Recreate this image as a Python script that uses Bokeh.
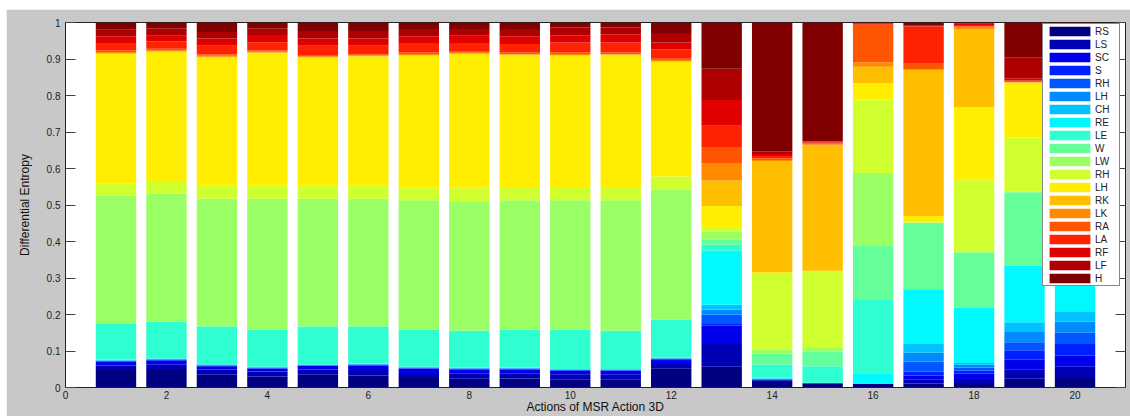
from bokeh.plotting import figure
from bokeh.models import (ColumnDataSource, Range1d, FixedTicker, LinearAxis,
                          Legend, LegendItem)
from bokeh.embed import file_html
from bokeh.resources import INLINE

# ---- data: entropy share of each joint, for the 20 actions ----
actions = list(range(1, 21))
rs = [.048, .051, .035, .030, .035, .033, .026, .024, .025, .021, .021, .053, .057, .018, .010, .010, .011, .012, .024, .026]
ls = [.012, .011, .014, .014, .014, .015, .014, .014, .013, .015, .014, .014, .062, .002, .001, .000, .010, .011, .026, .031]
sc = [.010, .011, .009, .008, .010, .012, .012, .011, .011, .009, .011, .009, .050, .001, .001, .000, .012, .015, .026, .030]
s = [.002, .003, .002, .001, .001, .002, .001, .002, .002, .002, .001, .002, .005, .001, .000, .000, .010, .008, .026, .032]
rh_hand = [.001, .001, .001, .001, .001, .001, .001, .001, .001, .001, .001, .001, .025, .001, .000, .000, .028, .009, .022, .031]
lh_hand = [.001, .001, .001, .001, .001, .001, .001, .001, .001, .001, .001, .001, .015, .001, .000, .000, .024, .007, .028, .030]
ch = [.001, .001, .001, .001, .001, .001, .001, .001, .001, .001, .001, .001, .013, .001, .000, .000, .024, .005, .027, .029]
re = [.001, .001, .001, .001, .001, .001, .001, .001, .001, .001, .001, .001, .148, .002, .001, .029, .150, .152, .155, .150]
le = [.100, .100, .103, .101, .103, .101, .101, .100, .103, .107, .104, .103, .016, .036, .045, .201, .001, .001, .001, .050]
w = [.001, .001, .001, .001, .001, .001, .001, .001, .001, .001, .001, .001, .014, .030, .040, .150, .181, .150, .200, .100]
lw = [.349, .350, .349, .358, .349, .349, .354, .354, .354, .354, .357, .356, .022, .011, .010, .198, .001, .001, .001, .050]
rh_hip = [.032, .032, .037, .037, .037, .037, .034, .036, .036, .036, .036, .036, .010, .210, .211, .201, .001, .197, .149, .100]
lh_hip = [.356, .356, .350, .363, .350, .353, .362, .368, .362, .360, .362, .314, .060, .002, .001, .045, .017, .200, .150, .100]
rk = [.002, .002, .002, .001, .001, .001, .002, .001, .001, .002, .001, .002, .070, .303, .343, .045, .400, .214, .001, .050]
lk = [.003, .003, .003, .002, .002, .002, .003, .002, .002, .003, .002, .003, .048, .004, .003, .012, .002, .004, .001, .020]
ra = [.004, .004, .004, .003, .004, .003, .004, .003, .004, .004, .004, .004, .044, .005, .003, .103, .015, .003, .001, .020]
la = [.021, .020, .023, .023, .025, .023, .026, .024, .023, .027, .027, .026, .058, .006, .002, .002, .102, .004, .003, .020]
rf = [.018, .016, .020, .020, .020, .020, .018, .020, .021, .020, .023, .018, .071, .006, .002, .002, .001, .003, .006, .030]
lf = [.018, .020, .018, .018, .021, .021, .020, .018, .020, .021, .018, .026, .085, .007, .002, .001, .001, .002, .058, .050]
h = [.020, .016, .026, .016, .023, .023, .018, .018, .018, .014, .014, .029, .127, .353, .325, .001, .009, .002, .095, .051]

joint_labels = ["RS", "LS", "SC", "S", "RH", "LH", "CH", "RE", "LE", "W",
                "LW", "RH", "LH", "RK", "LK", "RA", "LA", "RF", "LF", "H"]
series = [rs, ls, sc, s, rh_hand, lh_hand, ch, re, le, w,
          lw, rh_hip, lh_hip, rk, lk, ra, la, rf, lf, h]

x_ticks = [0, 2, 4, 6, 8, 10, 12, 14, 16, 18, 20]
y_ticks = [0, 0.1, 0.2, 0.3, 0.4, 0.5, 0.6, 0.7, 0.8, 0.9, 1]
y_tick_labels = ["0", "0.1", "0.2", "0.3", "0.4", "0.5", "0.6", "0.7", "0.8", "0.9", "1"]

# jet colormap, 20 steps
colors = ["#000080", "#0000b5", "#0000eb", "#0021ff", "#0057ff", "#008cff",
          "#00c2ff", "#00f8ff", "#2fffd0", "#65ff9a", "#9aff65", "#d0ff2f",
          "#ffee00", "#ffbe00", "#ff8a00", "#ff5500", "#ff2200", "#e00000",
          "#ae0000", "#800000"]

FONT = "Liberation Sans"

keys = ["s%d" % i for i in range(len(series))]
data = {"x": actions}
for k, vals in zip(keys, series):
    data[k] = vals
source = ColumnDataSource(data)

p = figure(width=1124, height=407, output_backend="svg", toolbar_location=None,
           title=None, x_range=Range1d(0, 21), y_range=Range1d(0, 1),
           min_border_left=59, min_border_right=5, min_border_top=13,
           min_border_bottom=28)
p.margin = (9, 0, 0, 6)
p.background_fill_color = "white"
p.border_fill_color = "#c8c8c8"
p.outline_line_color = "#222222"
p.outline_line_width = 1
p.xgrid.visible = False
p.ygrid.visible = False

renderers = p.vbar_stack(keys, x="x", width=0.8, color=colors, line_color=None,
                         source=source)

# axes
xa = p.xaxis[0]
xa.ticker = FixedTicker(ticks=x_ticks)
xa.major_tick_in = 0
xa.major_tick_out = 0
xa.minor_tick_line_color = None
xa.major_label_standoff = 3
xa.major_label_text_font = FONT
xa.major_label_text_font_size = "10px"
xa.major_label_text_color = "#222222"
xa.axis_line_color = "#222222"
xa.axis_label = "Actions of MSR Action 3D"
xa.axis_label_text_font = FONT
xa.axis_label_text_font_size = "12px"
xa.axis_label_text_font_style = "normal"
xa.axis_label_text_color = "#111111"
xa.axis_label_standoff = -2

ya = p.yaxis[0]
ya.ticker = FixedTicker(ticks=y_ticks)
ya.major_label_overrides = {t: lab for t, lab in zip(y_ticks, y_tick_labels)}
ya.major_tick_in = 10
ya.major_tick_out = 0
ya.minor_tick_line_color = None
ya.major_tick_line_color = "#444444"
ya.major_label_standoff = 5
ya.major_label_text_font = FONT
ya.major_label_text_font_size = "10px"
ya.major_label_text_color = "#222222"
ya.axis_line_color = "#222222"
ya.axis_label = "Differential Entropy"
ya.axis_label_text_font = FONT
ya.axis_label_text_font_size = "12px"
ya.axis_label_text_font_style = "normal"
ya.axis_label_text_color = "#111111"
ya.axis_label_standoff = 12

ra_axis = LinearAxis(ticker=FixedTicker(ticks=y_ticks), major_tick_in=10,
                     major_tick_out=0, minor_tick_line_color=None,
                     major_label_text_font_size="1px",
                     major_label_text_color=None, major_label_standoff=0,
                     axis_line_color=None, major_tick_line_color="#444444")
p.add_layout(ra_axis, "right")

legend = Legend(items=[LegendItem(label=lab, renderers=[r])
                       for lab, r in zip(joint_labels, renderers)],
                location=(977, 101), orientation="vertical",
                glyph_width=51, glyph_height=12, label_height=12,
                label_width=23, spacing=1, padding=1, margin=0,
                label_standoff=0, label_text_font=FONT,
                label_text_font_size="10px", label_text_color="#222222",
                border_line_color="#111111", border_line_width=1,
                background_fill_color="white", background_fill_alpha=1)
p.add_layout(legend)

open("out.html", "w").write(file_html(p, INLINE))
